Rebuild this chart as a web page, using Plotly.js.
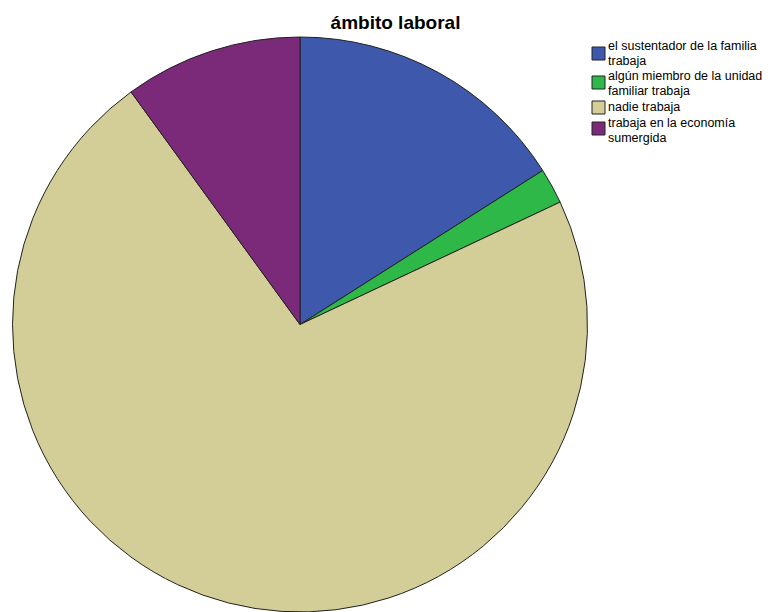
<!DOCTYPE html>
<html>
<head>
<meta charset="utf-8">
<script src="https://cdn.plot.ly/plotly-3.0.1.min.js"></script>
<style>html,body{margin:0;padding:0;background:#fff;}#chart{width:772px;height:612px;}</style>
</head>
<body>
<div id="chart"></div>
<script>
const categories = [
  "el sustentador de la familia trabaja",
  "algún miembro de la unidad familiar trabaja",
  "nadie trabaja",
  "trabaja en la economía sumergida"
];
// legend labels as they wrap in the reference
const legendLines = [
  ["el sustentador de la familia", "trabaja"],
  ["algún miembro de la unidad", "familiar trabaja"],
  ["nadie trabaja"],
  ["trabaja en la economía", "sumergida"]
];
const values = [16, 2, 72, 10];
const colors = ["#3E58AC", "#2EB848", "#D3CE97", "#7B2A7A"];

const W = 772, H = 612;
const px = x => x / W;
const py = y => 1 - y / H;

const data = [{
  type: "pie",
  labels: categories,
  values: values,
  sort: false,
  direction: "clockwise",
  rotation: 0,
  textinfo: "none",
  hoverinfo: "label+percent",
  marker: { colors: colors, line: { color: "#222", width: 1 } },
  domain: { x: [0.01554, 0.76166], y: [0, 0.9395] },
  showlegend: false
}];

// custom legend layout (pixel positions)
const sqTop = [47, 76, 101, 122];
const lineY = [[46, 61], [76, 91], [107], [123, 138]];
const shapes = [];
const annotations = [];
legendLines.forEach((lines, i) => {
  shapes.push({
    type: "rect", xref: "paper", yref: "paper",
    x0: px(592), x1: px(605), y0: py(sqTop[i]), y1: py(sqTop[i] + 13),
    fillcolor: colors[i], line: { color: "#222", width: 1 }
  });
  lines.forEach((t, j) => {
    annotations.push({
      xref: "paper", yref: "paper",
      x: px(607), y: py(lineY[i][j]),
      xanchor: "left", yanchor: "middle",
      text: t, showarrow: false, borderpad: 0,
      font: { family: "Liberation Sans, Arial, sans-serif", size: 12.5, color: "#000" }
    });
  });
});

const layout = {
  width: W, height: H,
  margin: { l: 0, r: 0, t: 0, b: 0 },
  paper_bgcolor: "#fff",
  title: {
    text: "<b>ámbito laboral</b>",
    x: px(395.5), xanchor: "center",
    y: py(22), yanchor: "middle",
    font: { family: "Liberation Sans, Arial, sans-serif", size: 19, color: "#000" }
  },
  showlegend: false,
  shapes: shapes,
  annotations: annotations
};

Plotly.newPlot("chart", data, layout, { displayModeBar: false, staticPlot: true });
</script>
</body>
</html>
